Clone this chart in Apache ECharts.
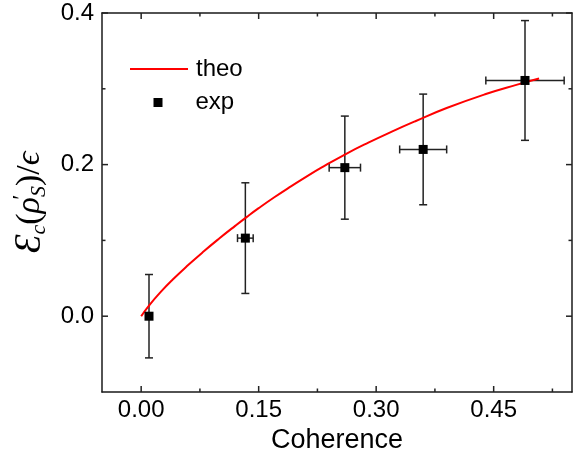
<!DOCTYPE html>
<html><head><meta charset="utf-8">
<script src="https://cdn.jsdelivr.net/npm/echarts@6/dist/echarts.min.js"></script>
<style>html,body{margin:0;padding:0;background:#fff}#c{width:581px;height:459px}</style>
</head><body><div id="c"></div>
<script>
// experimental points
const expX = [0.010, 0.133, 0.260, 0.360, 0.490];
const expY = [0.000, 0.103, 0.196, 0.220, 0.311];
const expXErr = [0.000, 0.010, 0.020, 0.030, 0.050];
const expYErr = [0.055, 0.073, 0.068, 0.073, 0.079];
// theoretical curve
const theoX = [0.000, 0.010, 0.025, 0.040, 0.060, 0.080, 0.100, 0.120, 0.135, 0.150, 0.170, 0.190, 0.210, 0.230, 0.260, 0.290, 0.320, 0.350, 0.390, 0.440, 0.480, 0.508];
const theoY = [0.000, 0.014, 0.032, 0.048, 0.0674, 0.0856, 0.1028, 0.1192, 0.1311, 0.1425, 0.1569, 0.1705, 0.1835, 0.1959, 0.2133, 0.2290, 0.2435, 0.2572, 0.2746, 0.2931, 0.3055, 0.3135];
// ticks
const xTicks = [0.00, 0.15, 0.30, 0.45];
const xMinorTicks = [0.075, 0.225, 0.375, 0.525];
const yTicks = [0.0, 0.2, 0.4];
const yMinorTicks = [0.1, 0.3];

const FONT = '"Liberation Sans", Arial, sans-serif';
const MATH = '"Liberation Serif", "DejaVu Serif", serif';
const X_MIN = -0.05, X_MAX = 0.55, Y_MIN = -0.1, Y_MAX = 0.4;
const axisCol = '#1a1a1a';
const MAJOR_LEN = 6, MINOR_LEN = 3.5;

// tick marks: [value, dim (0=x,1=y), isMajor]
const tickData = []
  .concat(xTicks.map(v => [v, 0, 1]))
  .concat(xMinorTicks.map(v => [v, 0, 0]))
  .concat(yTicks.map(v => [v, 1, 1]))
  .concat(yMinorTicks.map(v => [v, 1, 0]));

function xAx(pos, withLabel) {
  return {
    type: 'value', position: pos, min: X_MIN, max: X_MAX,
    axisLine: { show: true, onZero: false, lineStyle: { color: axisCol, width: 1.5 } },
    axisTick: { show: false },
    axisLabel: withLabel ? { show: true, customValues: xTicks, formatter: v => v.toFixed(2), color: '#000', fontSize: 24, fontFamily: FONT, margin: 6 } : { show: false },
    splitLine: { show: false },
    name: withLabel ? 'Coherence' : '', nameLocation: 'middle', nameGap: 32,
    nameTextStyle: { color: '#000', fontSize: 27, fontFamily: FONT }
  };
}
function yAx(pos, withLabel) {
  return {
    type: 'value', position: pos, min: Y_MIN, max: Y_MAX,
    axisLine: { show: true, onZero: false, lineStyle: { color: axisCol, width: 1.5 } },
    axisTick: { show: false },
    axisLabel: withLabel ? { show: true, customValues: yTicks, formatter: v => v.toFixed(1), color: '#000', fontSize: 24, fontFamily: FONT, margin: 8 } : { show: false },
    splitLine: { show: false },
    name: withLabel ? '{e|Ɛ}{s|c}{p|(}{n|ρ}{u|′}{s|S}{p|)/}{n|ϵ}' : '', nameLocation: 'middle', nameGap: 52,
    nameRotate: 90,
    nameTextStyle: {
      color: '#000', fontSize: 32, fontFamily: MATH,
      rich: {
        e: { fontSize: 38, fontStyle: 'italic', fontFamily: MATH, color: '#000', lineHeight: 40, verticalAlign: 'middle' },
        n: { fontSize: 34, fontStyle: 'italic', fontFamily: MATH, color: '#000', lineHeight: 40, verticalAlign: 'middle' },
        p: { fontSize: 34, fontFamily: MATH, color: '#000', lineHeight: 40, verticalAlign: 'middle' },
        s: { fontSize: 22, fontStyle: 'italic', fontFamily: MATH, color: '#000', lineHeight: 20, verticalAlign: 'bottom' },
        u: { fontSize: 24, fontFamily: MATH, color: '#000', lineHeight: 22, verticalAlign: 'top', width: 0 }
      }
    }
  };
}

const chart = echarts.init(document.getElementById('c'));
const errData = expX.map((x, i) => [x, expY[i], expXErr[i], expYErr[i]]);
chart.setOption({
  animation: false,
  backgroundColor: '#fff',
  grid: { left: 102, right: 9, top: 13, bottom: 67 },
  legend: [
    {
      data: [{ name: 'theo', icon: 'rect' }], left: 130, top: 57, padding: 0,
      itemWidth: 58, itemHeight: 2,
      textStyle: { fontSize: 24, fontFamily: FONT, color: '#000', padding: [0, 0, 0, 3] }
    },
    {
      data: [{ name: 'exp', icon: 'rect' }], left: 153.5, top: 90.5, padding: 0,
      itemWidth: 9, itemHeight: 9,
      textStyle: { fontSize: 24, fontFamily: FONT, color: '#000', padding: [0, 0, 0, 28] }
    }
  ],
  xAxis: [xAx('bottom', true), xAx('top', false)],
  yAxis: [yAx('left', true), yAx('right', false)],
  series: [
    {
      name: 'ticks', type: 'custom', xAxisIndex: 0, yAxisIndex: 0, z: 6, silent: true,
      data: tickData,
      renderItem: function (params, api) {
        const v = api.value(0), dim = api.value(1), len = api.value(2) ? MAJOR_LEN : MINOR_LEN;
        const st = { stroke: '#222', lineWidth: 1.5 };
        if (dim < 0.5) {
          const b = api.coord([v, Y_MIN]), t = api.coord([v, Y_MAX]);
          return { type: 'group', children: [
            { type: 'line', shape: { x1: b[0], y1: b[1], x2: b[0], y2: b[1] - len }, style: st },
            { type: 'line', shape: { x1: t[0], y1: t[1], x2: t[0], y2: t[1] + len }, style: st }
          ] };
        } else {
          const l = api.coord([X_MIN, v]), r = api.coord([X_MAX, v]);
          return { type: 'group', children: [
            { type: 'line', shape: { x1: l[0], y1: l[1], x2: l[0] + len, y2: l[1] }, style: st },
            { type: 'line', shape: { x1: r[0], y1: r[1], x2: r[0] - len, y2: r[1] }, style: st }
          ] };
        }
      }
    },
    {
      name: 'err', type: 'custom', xAxisIndex: 0, yAxisIndex: 0, z: 3, silent: true,
      data: errData,
      renderItem: function (params, api) {
        const x = api.value(0), y = api.value(1), dx = api.value(2), dy = api.value(3);
        const c = api.coord([x, y]);
        const top = api.coord([x, y + dy]), bot = api.coord([x, y - dy]);
        const cap = 4;
        const st = { stroke: '#222', lineWidth: 1.5 };
        const children = [
          { type: 'line', shape: { x1: c[0], y1: top[1], x2: c[0], y2: bot[1] }, style: st },
          { type: 'line', shape: { x1: c[0] - cap, y1: top[1], x2: c[0] + cap, y2: top[1] }, style: st },
          { type: 'line', shape: { x1: c[0] - cap, y1: bot[1], x2: c[0] + cap, y2: bot[1] }, style: st }
        ];
        if (dx > 0) {
          const l = api.coord([x - dx, y]), r = api.coord([x + dx, y]);
          children.push(
            { type: 'line', shape: { x1: l[0], y1: c[1], x2: r[0], y2: c[1] }, style: st },
            { type: 'line', shape: { x1: l[0], y1: c[1] - cap, x2: l[0], y2: c[1] + cap }, style: st },
            { type: 'line', shape: { x1: r[0], y1: c[1] - cap, x2: r[0], y2: c[1] + cap }, style: st }
          );
        }
        return { type: 'group', children: children };
      }
    },
    {
      name: 'theo', type: 'line', xAxisIndex: 0, yAxisIndex: 0, z: 4,
      data: theoX.map((x, i) => [x, theoY[i]]),
      smooth: 0.5, symbol: 'none', showSymbol: false,
      lineStyle: { color: '#ff0000', width: 2 }, itemStyle: { color: '#ff0000' }
    },
    {
      name: 'exp', type: 'scatter', xAxisIndex: 0, yAxisIndex: 0, z: 5,
      data: expX.map((x, i) => [x, expY[i]]),
      symbol: 'rect', symbolSize: 9,
      itemStyle: { color: '#000', opacity: 1 }
    }
  ]
});
</script>
</body></html>
